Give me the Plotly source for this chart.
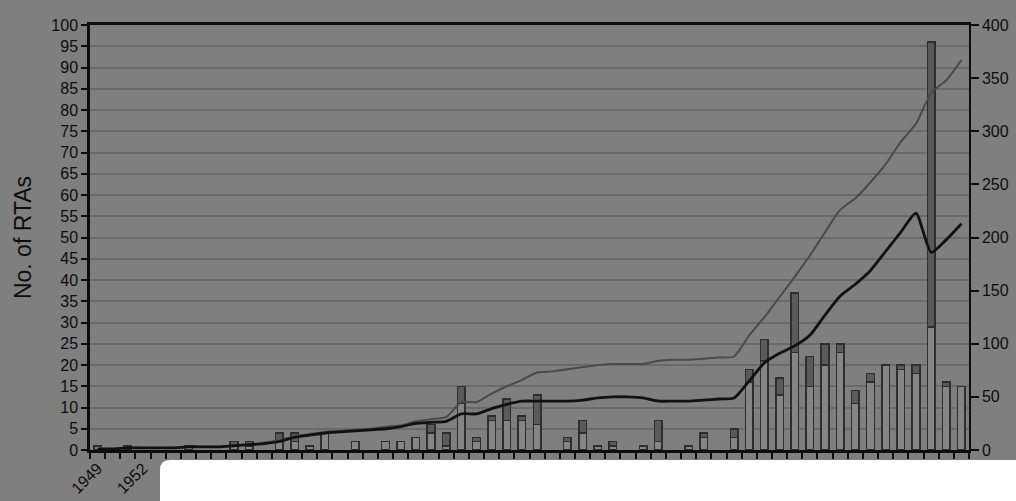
import plotly.graph_objects as go

# Years of entry into force (one bar per year)
years = list(range(1949, 2007))

# Yearly counts, split into the lower (light) and upper (dark) bar segments
light_counts = [1, 0, 1, 0, 0, 0, 1, 0, 0, 1, 1, 0, 2, 2, 1, 4, 0, 2, 0, 2,
                2, 3, 4, 1, 11, 2, 7, 7, 7, 6, 0, 2, 4, 1, 1, 0, 1, 2, 0, 1,
                3, 0, 3, 16, 21, 13, 23, 15, 20, 23, 11, 16, 20, 19, 18, 29, 15, 15]
dark_counts = [0, 0, 0, 0, 0, 0, 0, 0, 0, 1, 1, 0, 2, 2, 0, 0, 0, 0, 0, 0,
               0, 0, 2, 3, 4, 1, 1, 5, 1, 7, 0, 1, 3, 0, 1, 0, 0, 5, 0, 0,
               1, 0, 2, 3, 5, 4, 14, 7, 5, 2, 3, 2, 0, 1, 2, 67, 1, 0]

# Cumulative totals on the right-hand axis
cumulative_grey = [1, 1, 2, 2, 2, 2, 3, 3, 3, 4, 5, 7, 9, 13, 15, 17, 18, 19, 20, 22,
                   23, 27, 29, 31, 45, 45, 53, 60, 66, 73, 74, 76, 78, 80, 81, 81, 81, 84, 85, 85,
                   86, 87, 88, 108, 125, 144, 163, 183, 205, 226, 237, 252, 269, 290, 307, 336, 348, 367]
cumulative_black = [1, 1, 2, 2, 2, 2, 3, 3, 3, 4, 5, 6, 8, 12, 14, 16, 17, 18, 19, 20,
                    22, 25, 26, 27, 34, 34, 39, 43, 46, 46, 46, 46, 47, 49, 50, 50, 49, 46, 46, 46,
                    47, 48, 49, 65, 82, 91, 98, 108, 127, 145, 156, 169, 187, 205, 223, 186, 198, 213]

# Axis tick values
left_ticks = list(range(0, 101, 5))
right_ticks = list(range(0, 401, 50))
label_years = [y for y in years if (y - years[0]) % 3 == 0]

BG = "#7f7f7f"
INK = "#0d0d0d"
FONT = "Liberation Sans, Arial, sans-serif"


def nz(values):
    return [v if v else None for v in values]


fig = go.Figure()

fig.add_trace(go.Bar(
    x=years, y=nz(light_counts), yaxis="y",
    marker=dict(color="#858585", line=dict(color="#2e2e2e", width=1.5)),
))
fig.add_trace(go.Bar(
    x=years, y=nz(dark_counts), yaxis="y",
    marker=dict(color="#5a5a5a", line=dict(color="#2e2e2e", width=1.5)),
))
fig.add_trace(go.Scatter(
    x=years, y=cumulative_grey, yaxis="y2", mode="lines",
    line=dict(color="#4a4a4a", width=2, shape="spline", smoothing=0.6),
))
fig.add_trace(go.Scatter(
    x=years, y=cumulative_black, yaxis="y2", mode="lines",
    line=dict(color="#111111", width=2.8, shape="spline", smoothing=0.6),
))

# Pixel helpers for the plot frame (plot area spans x 90..969, y 25..450)
L, R, T, B = 90, 969, 25, 450


def fx(px):
    return (px - L) / (R - L)


def fy(py):
    return (B - py) / (B - T)


panel = (f"M {fx(160)},{fy(505)} L {fx(160)},{fy(470)} "
         f"Q {fx(160)},{fy(460)} {fx(170)},{fy(460)} "
         f"L {fx(1020)},{fy(460)} L {fx(1020)},{fy(505)} Z")

fig.update_layout(
    width=1016, height=501, autosize=False,
    margin=dict(l=L, r=1016 - R, t=T, b=501 - B, pad=0, autoexpand=False),
    paper_bgcolor=BG, plot_bgcolor=BG,
    barmode="stack", bargap=0.5,
    showlegend=False,
    font=dict(family=FONT, size=16, color=INK),
    xaxis=dict(
        automargin=False,
        range=[years[0] - 0.5, years[-1] + 0.5],
        tickmode="array", tickvals=label_years, ticktext=[str(y) for y in label_years],
        tickangle=-45, ticks="", showgrid=False, zeroline=False,
        showline=True, linecolor=INK, linewidth=2.5, mirror=True,
        tickfont=dict(size=16, color=INK),
        minor=dict(ticks="outside", ticklen=6, tickwidth=1.5, tickcolor=INK,
                   tickmode="linear", tick0=years[0] - 0.5, dtick=1, showgrid=False),
    ),
    yaxis=dict(
        automargin=False,
        range=[0, 100], tickmode="array", tickvals=left_ticks,
        showgrid=True, gridcolor="#6a6a6a", gridwidth=2, zeroline=False,
        showline=True, linecolor=INK, linewidth=2.5,
        ticks="outside", ticklen=6, tickwidth=1.5, tickcolor=INK,
        tickfont=dict(size=16, color=INK),
        title=dict(text="No. of RTAs", font=dict(size=23, color=INK), standoff=14),
    ),
    yaxis2=dict(
        automargin=False,
        range=[0, 400], tickmode="array", tickvals=right_ticks,
        overlaying="y", side="right", showgrid=False, zeroline=False,
        showline=True, linecolor=INK, linewidth=1.5,
        ticks="outside", ticklen=8, tickwidth=1.5, tickcolor=INK,
        tickfont=dict(size=16, color=INK),
    ),
    shapes=[dict(type="path", xref="paper", yref="paper", path=panel,
                 fillcolor="white", line=dict(width=0), layer="above")],
)

fig.write_html("out.html")
